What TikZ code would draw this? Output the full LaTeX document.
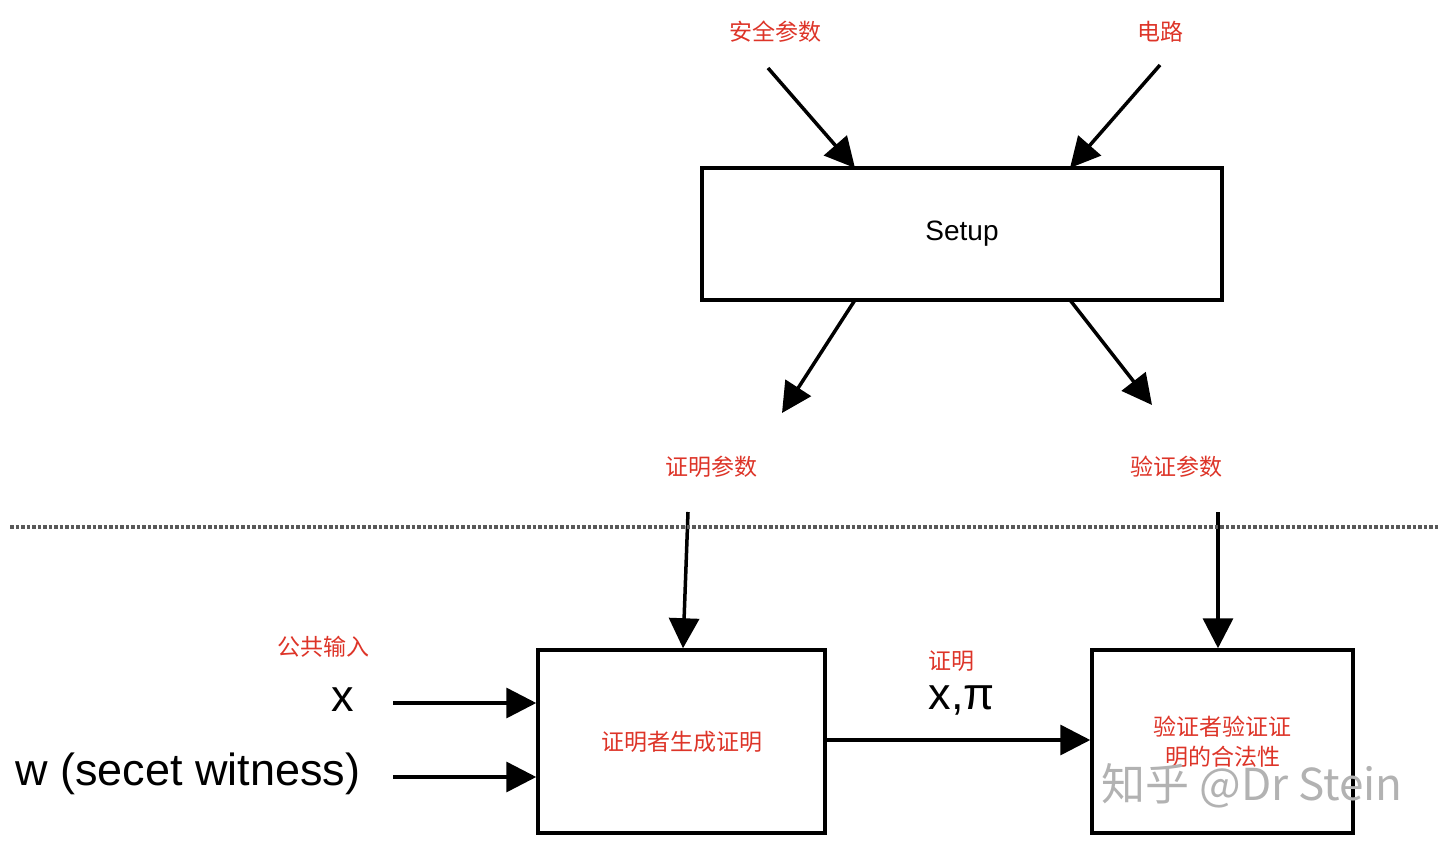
\documentclass[tikz,border=0pt]{standalone}
\usepackage{fontspec}
\setmainfont{Liberation Sans}
\newfontfamily\cjk{Noto Sans CJK SC}
\usetikzlibrary{arrows.meta}
\definecolor{lbl}{RGB}{221,52,40}
\begin{document}
\begin{tikzpicture}[x=1pt,y=-1pt,
  box/.style={draw,line width=3.5pt,inner sep=0pt},
  arr/.style={line width=3.5pt,-{Triangle[length=30pt,width=30pt]}},
  red/.style={text=lbl,font=\cjk\fontsize{23}{30}\selectfont},
  big/.style={font=\fontsize{45}{50}\selectfont}]
\useasboundingbox (0,0) rectangle (1440,845);
\node[box,minimum width=520pt,minimum height=132pt,font=\fontsize{28}{32}\selectfont] (setup) at (962,234) {Setup};
\node[box,minimum width=287pt,minimum height=183pt,red] (prover) at (681.5,741.5) {证明者生成证明};
\node[box,minimum width=261pt,minimum height=183pt,red,align=center] (verifier) at (1222.5,741.5) {验证者验证证\\明的合法性};
\node[red] (sec) at (775,32) {安全参数};
\node[red] (circ) at (1160,32) {电路};
\node[red] (pk) at (711,467) {证明参数};
\node[red] (vk) at (1176,467) {验证参数};
\node[red] (pub) at (323,647) {公共输入};
\node[red] (prf) at (951,661) {证明};
\node[big] (x) at (343,700) {x};
\node[big] (w) at (188,774) {w (secet witness)};
\node[big] (xpi) at (962,700) {x,π};
\coordinate (a1) at (768,68); \coordinate (a2) at (1160,65);
\coordinate (b1) at (855,300); \coordinate (b2) at (1070,300);
\coordinate (c1) at (688,512); \coordinate (c2) at (1218,512);
\coordinate (d1) at (393,703); \coordinate (d2) at (393,777);
\draw[arr] (a1) -- (855,168);
\draw[arr] (a2) -- (1070,168);
\draw[arr] (b1) -- (782,413);
\draw[arr] (b2) -- (1152,405);
\draw[arr] (c1) -- (prover.north -| 683,0);
\draw[arr] (c2) -- (verifier.north -| 1218,0);
\draw[arr] (d1) -- (prover.west |- d1);
\draw[arr] (d2) -- (prover.west |- d2);
\draw[arr] (prover.east |- 0,740) -- (verifier.west |- 0,740);
\draw[line width=3.5pt,dotted,gray!70!black] (10,527) -- (1440,527);
\node[text=gray!60,font=\cjk\fontsize{44}{48}\selectfont] (wm) at (1252,786) {知乎 @Dr Stein};
\end{tikzpicture}
\end{document}
